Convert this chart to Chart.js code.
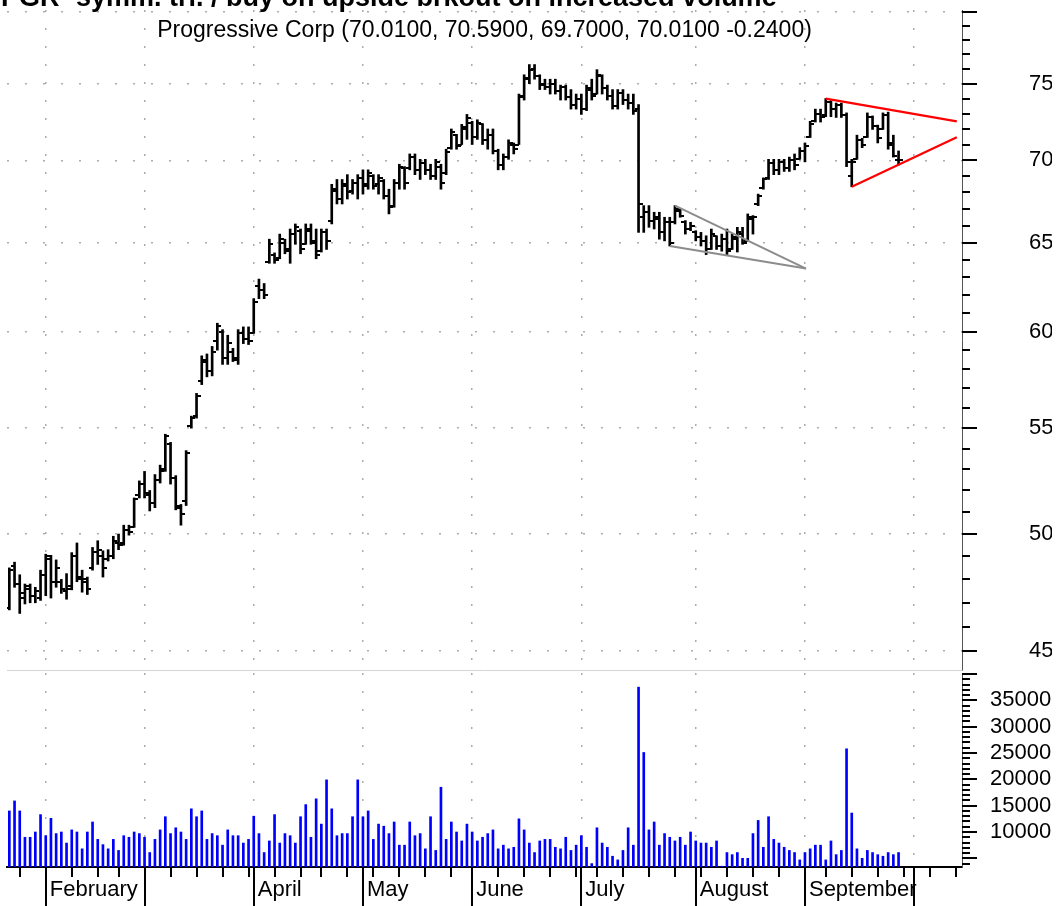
<!DOCTYPE html>
<html>
<head>
<meta charset="utf-8">
<title>PGR</title>
<script src="https://cdn.jsdelivr.net/npm/chart.js@4.4.1/dist/chart.umd.min.js"></script>
<style>
  html, body { margin: 0; padding: 0; background: #fff; }
  #wrap { position: relative; width: 1061px; height: 906px; overflow: hidden; }
  #priceChart { position: absolute; left: 0; top: 0; }
  #volChart { position: absolute; left: 0; top: 673px; }
</style>
</head>
<body>
<div id="wrap">
  <canvas id="priceChart" width="1061" height="675"></canvas>
  <canvas id="volChart" width="1061" height="233"></canvas>
</div>
<script>
// trading days, 23 Jan 2003 = index 0
const opens = [
  46.8, 48.6, 47.8, 47.2, 47.6, 47.3, 47.2, 48.2, 48.9, 47.9,
  47.9, 47.5, 47.7, 49.0, 48.0, 47.9, 48.5, 49.2, 49.0, 48.9,
  49.0, 49.6, 49.6, 50.2, 50.3, 51.8, 52.3, 51.8, 51.4, 52.5,
  53.0, 54.2, 52.6, 51.2, 51.5, 55.1, 55.6, 57.4, 58.4, 57.9,
  59.5, 60.0, 58.6, 58.9, 58.5, 59.9, 59.6, 59.9, 62.5, 62.3,
  63.9, 64.3, 64.1, 65.0, 64.5, 65.5, 65.7, 64.9, 65.7, 65.0,
  64.5, 65.6, 66.3, 68.1, 67.6, 68.4, 68.1, 68.6, 68.9, 68.5,
  69.0, 68.5, 68.7, 67.8, 67.2, 68.6, 69.5, 69.5, 70.2, 69.4,
  69.8, 69.4, 69.0, 69.6, 69.2, 70.8, 71.6, 71.0, 72.0, 72.4,
  71.5, 72.3, 71.3, 71.6, 70.6, 69.7, 70.2, 71.0, 71.0, 74.2,
  75.4, 76.0, 75.5, 75.0, 74.8, 75.0, 74.5, 74.8, 74.1, 73.6,
  74.0, 73.3, 74.6, 74.3, 75.5, 74.7, 74.2, 73.5, 74.4, 73.9,
  73.7, 73.3, 66.5, 66.8, 66.3, 66.4, 65.6, 66.2, 66.2, 66.9,
  66.2, 65.8, 65.6, 65.3, 65.1, 64.6, 65.4, 64.8, 65.2, 64.6,
  65.2, 65.5, 65.1, 66.4, 67.3, 68.3, 68.9, 69.8, 69.4, 69.9,
  69.5, 70.0, 70.1, 70.6, 71.5, 72.5, 73.0, 72.9, 73.8, 73.3,
  73.6, 72.9, 69.0, 70.1, 71.3, 71.5, 72.8, 72.2, 72.0, 72.9,
  71.1, 70.01
];
const highs = [
  48.5, 48.75, 48.2, 47.8, 47.8, 47.66, 48.4, 49.1, 49.05, 48.85,
  48.0, 48.25, 49.17, 49.6, 48.4, 48.1, 49.4, 49.7, 49.25, 49.3,
  49.9, 50.0, 50.4, 50.4, 51.65, 52.45, 52.9, 52.0, 52.75, 53.2,
  54.7, 54.3, 52.7, 51.35, 53.9, 55.6, 56.75, 58.7, 58.8, 59.2,
  60.45, 60.1, 59.8, 59.1, 60.1, 60.25, 60.25, 61.8, 62.9, 62.65,
  65.2, 64.4, 65.5, 65.2, 65.8, 66.1, 65.8, 66.1, 66.1, 65.8,
  65.8, 65.8, 68.5, 68.8, 68.8, 69.1, 68.8, 69.1, 69.4, 69.4,
  69.1, 69.1, 68.8, 68.2, 68.8, 69.75, 69.6, 70.4, 70.4, 70.06,
  70.06, 69.75, 70.06, 69.75, 70.7, 72.0, 71.65, 72.3, 72.95, 72.5,
  72.6, 72.35, 72.0, 72.0, 70.7, 70.4, 71.3, 71.1, 74.3, 75.6,
  76.3, 76.3, 75.6, 75.3, 75.3, 75.3, 74.9, 74.9, 74.6, 74.3,
  74.3, 74.9, 75.3, 75.95, 75.6, 74.9, 74.6, 74.6, 74.6, 74.3,
  74.3, 73.6, 67.2, 67.2, 66.8, 66.8, 66.5, 66.5, 67.2, 67.0,
  66.3, 66.2, 65.7, 65.6, 65.4, 65.8, 65.4, 65.5, 65.8, 65.5,
  65.9, 65.9, 66.7, 66.6, 67.9, 68.9, 70.06, 70.06, 70.06, 70.06,
  70.2, 70.4, 70.8, 71.1, 72.5, 73.3, 73.3, 74.0, 73.85, 73.7,
  73.7, 73.05, 70.06, 71.6, 71.4, 73.05, 72.85, 72.25, 73.05, 73.1,
  71.6, 70.59
];
const lows = [
  46.7, 47.66, 46.55, 46.95, 47.0, 47.0, 47.1, 47.3, 47.2, 47.66,
  47.4, 47.15, 47.55, 47.9, 47.45, 47.35, 48.4, 48.65, 48.1, 48.8,
  48.9, 49.3, 49.5, 49.95, 50.3, 51.65, 51.65, 51.05, 51.2, 52.35,
  52.9, 52.3, 51.1, 50.4, 51.3, 55.0, 55.5, 57.2, 57.6, 57.65,
  59.0, 58.25, 58.25, 58.4, 58.25, 59.35, 59.3, 59.9, 61.8, 61.8,
  63.8, 63.8, 64.06, 64.35, 63.8, 64.9, 64.35, 64.9, 64.9, 64.06,
  64.45, 64.6, 66.1, 67.3, 67.3, 67.6, 67.9, 67.6, 67.9, 68.2,
  68.2, 67.9, 67.6, 66.7, 67.1, 68.2, 68.2, 69.4, 69.1, 68.8,
  69.1, 68.8, 68.8, 68.2, 69.1, 70.7, 70.7, 71.0, 71.33, 71.0,
  71.33, 71.0, 70.7, 70.4, 69.4, 69.4, 70.06, 70.4, 71.0, 73.9,
  75.0, 75.3, 74.6, 74.6, 74.3, 74.3, 73.9, 73.9, 73.3, 73.3,
  72.95, 73.2, 73.9, 74.3, 74.3, 73.9, 73.3, 73.3, 73.6, 73.3,
  72.95, 65.6, 65.6, 65.9, 65.8, 65.2, 65.1, 64.8, 66.1, 66.5,
  65.5, 65.7, 65.1, 64.8, 64.3, 64.6, 64.6, 64.5, 64.3, 64.6,
  64.45, 64.9, 65.1, 65.5, 67.2, 68.2, 68.8, 69.1, 69.1, 69.3,
  69.3, 69.4, 70.06, 69.9, 71.45, 72.45, 72.45, 72.8, 72.8, 72.75,
  72.75, 69.6, 68.35, 70.06, 70.8, 71.45, 71.97, 71.1, 71.97, 70.7,
  70.2, 69.70
];
const closes = [
  48.4, 47.8, 47.4, 47.7, 47.3, 47.5, 48.2, 49.0, 47.9, 48.5,
  47.6, 47.6, 49.0, 48.1, 48.0, 47.6, 49.2, 49.3, 48.5, 49.0,
  49.7, 49.5, 50.2, 50.1, 51.6, 52.3, 51.9, 51.4, 52.5, 52.9,
  54.6, 52.6, 51.3, 50.9, 53.8, 55.5, 56.6, 58.5, 57.9, 58.9,
  60.3, 58.6, 59.4, 58.6, 59.9, 59.6, 59.5, 61.6, 62.3, 62.0,
  64.9, 64.0, 65.2, 64.6, 65.5, 65.9, 64.6, 65.8, 65.1, 64.3,
  65.6, 65.1, 68.2, 67.6, 68.5, 68.0, 68.6, 68.9, 68.4, 69.2,
  68.4, 68.9, 67.8, 67.1, 68.6, 69.6, 68.6, 70.2, 69.4, 69.8,
  69.4, 69.0, 69.9, 68.6, 70.5, 71.8, 70.9, 72.1, 72.7, 71.5,
  72.4, 71.3, 71.6, 70.6, 69.7, 70.2, 71.1, 70.7, 74.1, 75.3,
  75.9, 75.5, 74.9, 74.8, 75.0, 74.5, 74.8, 74.1, 73.6, 74.0,
  73.3, 74.7, 74.2, 75.6, 74.7, 74.2, 73.5, 74.4, 73.9, 73.7,
  73.2, 67.3, 66.8, 66.3, 66.5, 65.6, 66.2, 65.0, 67.0, 66.6,
  65.8, 66.0, 65.3, 65.1, 64.6, 65.5, 64.8, 65.2, 64.5, 65.3,
  65.6, 64.95, 66.5, 66.5, 67.8, 68.8, 69.8, 69.4, 69.9, 69.5,
  70.0, 69.7, 70.6, 70.9, 72.3, 73.0, 72.8, 73.8, 73.3, 73.6,
  72.9, 69.9, 69.9, 71.3, 71.0, 72.8, 72.2, 71.4, 72.9, 71.0,
  70.25, 70.01
];
const volumes = [
  14000, 15900, 14000, 9000, 9000, 10000, 13300, 9300, 12600, 9700,
  10000, 7900, 10400, 10000, 6800, 10000, 11900, 8600, 7600, 6800,
  8600, 6500, 9300, 9000, 10000, 9700, 9000, 6100, 8600, 10400,
  12900, 9700, 10800, 10000, 8600, 14400, 12900, 14000, 8600, 9700,
  9300, 7500, 10400, 9300, 9300, 7900, 8600, 13000, 9700, 6100,
  8300, 13300, 7900, 9700, 9300, 7900, 12900, 15200, 9000, 16300,
  11500, 19900, 14400, 9300, 9700, 9700, 12900, 19900, 12900, 14000,
  8600, 11500, 11100, 9700, 11900, 7500, 7500, 11900, 9300, 9700,
  6800, 12900, 6500, 18500, 8600, 11900, 10000, 8300, 11500, 10000,
  8300, 9000, 9700, 10400, 6800, 7500, 6800, 7100, 12500, 10400,
  7900, 6100, 8300, 8600, 8600, 7100, 6800, 9000, 6500, 7500,
  9300, 7100, 4000, 10800, 7900, 7100, 5400, 4700, 6500, 10800,
  7500, 37500, 25100, 10400, 11900, 7500, 9700, 9000, 8300, 9000,
  7500, 10000, 8300, 7900, 7900, 7100, 8300, 3500, 6100, 5700,
  6100, 5000, 5000, 9700, 12200, 7100, 12900, 8600, 7900, 7100,
  6500, 6100, 4700, 6100, 6800, 7500, 7500, 4700, 8300, 5700,
  6500, 25800, 13600, 6800, 5000, 6500, 6100, 5700, 5400, 6100,
  5700, 6100
];

// trend lines (x = trading-day index)
const grayUpper = [{x: 128, y: 67.2}, {x: 153.2, y: 63.5}];
const grayLower = [{x: 127, y: 64.8}, {x: 153.2, y: 63.5}];
const redUpper = [{x: 157, y: 74.0}, {x: 182.2, y: 72.5}];
const redLower = [{x: 162, y: 68.35}, {x: 182.2, y: 71.46}];

const monthStarts = [7, 26, 47, 68, 89, 110, 132, 153, 174];
const monthLabels = ['February', '', 'April', 'May', 'June', 'July', 'August', 'September', ''];
const weekStarts = [2, 12, 17, 21, 31, 36, 41, 46, 51, 56, 60, 65, 70, 75, 80, 85, 94, 99, 104, 109,
  113, 118, 123, 128, 133, 138, 143, 148, 157, 162, 167, 172, 177, 182];

const priceTicks = [45, 50, 55, 60, 65, 70, 75, 80];
const priceTickLabels = ['45', '50', '55', '60', '65', '70', '75', ''];
const volTicks = [10000, 15000, 20000, 25000, 30000, 35000];
const volTickLabels = ['10000', '15000', '20000', '25000', '30000', '35000'];

const titleText = 'PGR -symm. tri. / buy on upside brkout on increased volume';
const subtitleText = 'Progressive Corp (70.0100, 70.5900, 69.7000, 70.0100 -0.2400)';

const FONT = "'Liberation Sans', Arial, sans-serif";
const GRID = '#ababab';
const xMin = -0.45, xMax = 183.2;
Chart.defaults.font.family = FONT;
Chart.defaults.color = '#000';

function makeTick(side) {
  const c = document.createElement('canvas');
  c.width = 8; c.height = 2;
  const g = c.getContext('2d');
  g.fillStyle = '#000';
  g.fillRect(side === 'open' ? 0 : 4, 0, 4, 2);
  return c;
}

function rightTicks(ctx, scale, x, from, to, step, major) {
  ctx.beginPath();
  for (let v = from; v <= to; v += step) {
    const py = Math.round(scale.getPixelForValue(v));
    const len = v % major === 0 ? 15 : 8;
    ctx.moveTo(x, py);
    ctx.lineTo(x + len, py);
  }
  ctx.stroke();
}

const priceDecor = {
  id: 'priceDecor',
  afterDraw(chart) {
    const {ctx, chartArea, scales} = chart;
    ctx.save();
    ctx.strokeStyle = '#000';
    ctx.lineWidth = 2;
    rightTicks(ctx, scales.y, chartArea.right, 45, 80, 1, 5);
    ctx.fillStyle = '#000';
    ctx.font = 'bold 27px ' + FONT;
    ctx.textAlign = 'left';
    ctx.textBaseline = 'alphabetic';
    ctx.fillText(titleText, 1, 6);
    ctx.font = '23px ' + FONT;
    ctx.textAlign = 'center';
    ctx.textBaseline = 'middle';
    ctx.fillText(subtitleText, (chartArea.left + chartArea.right) / 2, 31);
    ctx.restore();
  }
};

const volDecor = {
  id: 'volDecor',
  afterDraw(chart) {
    const {ctx, chartArea: a, scales: {x, y}} = chart;
    ctx.save();
    ctx.strokeStyle = '#000';
    ctx.lineWidth = 2;
    ctx.beginPath();
    weekStarts.forEach(i => {
      const px = Math.round(x.getPixelForValue(i));
      ctx.moveTo(px, a.bottom);
      ctx.lineTo(px, a.bottom + 10);
    });
    monthStarts.forEach(i => {
      const px = Math.round(x.getPixelForValue(i));
      ctx.moveTo(px, a.bottom);
      ctx.lineTo(px, a.bottom + 40);
    });
    ctx.stroke();
    rightTicks(ctx, y, a.right, 4000, 40000, 1000, 5000);
    ctx.fillStyle = '#000';
    ctx.font = '22px ' + FONT;
    ctx.textAlign = 'left';
    ctx.textBaseline = 'middle';
    monthStarts.forEach((i, k) => {
      if (monthLabels[k]) ctx.fillText(monthLabels[k], x.getPixelForValue(i) + 4, a.bottom + 23);
    });
    ctx.restore();
  }
};

const xScale = (height, borderColor, borderWidth) => ({
  type: 'linear', min: xMin, max: xMax, offset: false,
  afterBuildTicks: s => { s.ticks = monthStarts.map(v => ({value: v})); },
  afterFit: s => { s.height = height; s.paddingLeft = 0; s.paddingRight = 0; },
  ticks: {display: false},
  grid: {color: GRID, lineWidth: 1.5, drawTicks: false, offset: false},
  border: {display: true, color: borderColor, width: borderWidth, dash: [2, 16]}
});

new Chart(document.getElementById('priceChart'), {
  type: 'scatter',
  data: {
    datasets: [
      {type: 'line', data: grayUpper, borderColor: '#8c8c8c', borderWidth: 2, pointRadius: 0, order: 0},
      {type: 'line', data: grayLower, borderColor: '#8c8c8c', borderWidth: 2, pointRadius: 0, order: 0},
      {type: 'line', data: redUpper, borderColor: '#ff0000', borderWidth: 2.2, pointRadius: 0, order: 0},
      {type: 'line', data: redLower, borderColor: '#ff0000', borderWidth: 2.2, pointRadius: 0, order: 0},
      {type: 'scatter', data: opens.map((o, i) => ({x: i, y: o})), pointStyle: makeTick('open'), pointRadius: 4, order: 1},
      {type: 'scatter', data: closes.map((c, i) => ({x: i, y: c})), pointStyle: makeTick('close'), pointRadius: 4, order: 1},
      {type: 'bar', data: highs.map((h, i) => ({x: i, y: [lows[i], h]})), backgroundColor: '#000', barThickness: 2, borderWidth: 0, order: 2}
    ]
  },
  options: {
    responsive: false, animation: false, events: [],
    layout: {padding: {left: 7, right: 9, top: 10, bottom: 2}},
    plugins: {legend: {display: false}, tooltip: {enabled: false}},
    scales: {
      x: xScale(0, '#d4d4d4', 1),
      y: {
        type: 'logarithmic', position: 'right', min: 44.24, max: 80.14,
        afterBuildTicks: s => { s.ticks = priceTicks.map(v => ({value: v})); },
        afterFit: s => { s.width = 90; s.paddingTop = 0; s.paddingBottom = 0; },
        ticks: {autoSkip: false, padding: 67, font: {size: 22}, callback: (v, i) => priceTickLabels[i]},
        grid: {color: GRID, lineWidth: 1.5, drawTicks: false},
        border: {display: true, color: '#555', width: 1, dash: [2, 16]}
      }
    }
  },
  plugins: [priceDecor]
});

new Chart(document.getElementById('volChart'), {
  type: 'scatter',
  data: {
    datasets: [
      {type: 'bar', data: volumes.map((v, i) => ({x: i, y: v})), backgroundColor: '#0000ff', barThickness: 2, borderWidth: 0}
    ]
  },
  options: {
    responsive: false, animation: false, events: [],
    layout: {padding: {left: 7, right: 9, top: 0, bottom: 0}},
    plugins: {legend: {display: false}, tooltip: {enabled: false}},
    scales: {
      x: xScale(39, '#000', 2),
      y: {
        type: 'linear', position: 'right', min: 3354, max: 40190, beginAtZero: false,
        afterBuildTicks: s => { s.ticks = volTicks.map(v => ({value: v})); },
        afterFit: s => { s.width = 90; s.paddingTop = 0; s.paddingBottom = 0; },
        ticks: {autoSkip: false, padding: 28, font: {size: 22}, callback: (v, i) => volTickLabels[i]},
        grid: {display: false, drawTicks: false},
        border: {display: true, color: '#555', width: 1}
      }
    }
  },
  plugins: [volDecor]
});
</script>
</body>
</html>
